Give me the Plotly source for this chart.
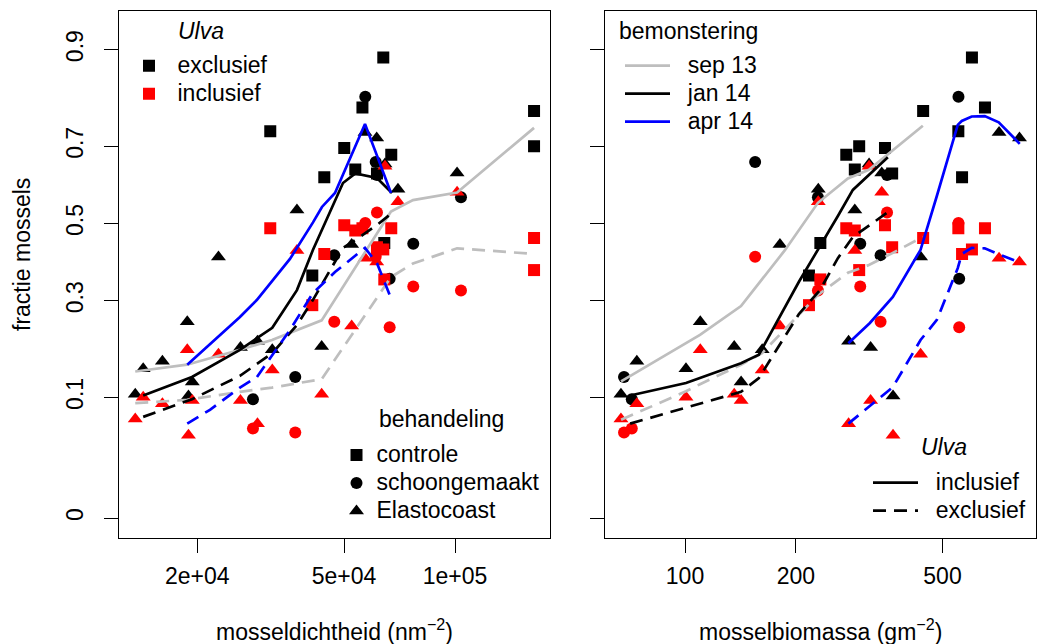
import numpy as np
import plotly.graph_objects as go

FONT = "Liberation Sans, Arial, Helvetica, sans-serif"
W, H = 1037, 644
FS = 23  # text size used throughout

# ---------------------------------------------------------------- samples
# one entry per plot: treatment, mussel density (n m-2), mussel biomass (g m-2),
# fraction of mussels measured without (exclusief) and with (inclusief) Ulva
behandeling = ["controle"] * 12 + ["schoongemaakt"] * 9 + ["Elastocoast"] * 18

dichtheid = [63900, 56100, 163800, 31550, 163800, 50080, 67160, 53650, 61430, 44210, 64300, 41020,
             57100, 60940, 61430, 77050, 47050, 66490, 103800, 36880, 28320,
             57000, 61320, 64580, 101300, 70030, 37270, 52450, 22830, 18790, 29130, 43490,
             26190, 31950, 16090, 14270, 19390, 13580, 18930]

biomassa = [601, 652, 443, 552, 297, 349, 274, 289, 365, 565, 233, 217,
            552.5, 155, 353.5, 299, 339.5, 555, 229.5, 68.3, 71.7,
            712, 809, 316, 342, 230, 289, 181, 436, 110, 278, 136,
            319, 162, 74, 100.6, 142, 67.0, 367]

fractie_excl = [0.887, 0.790, 0.782, 0.736, 0.700, 0.696, 0.679, 0.642, 0.632, 0.622, 0.448, 0.363,
                0.813, 0.661, 0.628, 0.446, 0.416, 0.355, 0.570, 0.135, 0.097,
                0.733, 0.720, 0.656, 0.633, 0.591, 0.536, 0.444, 0.411, 0.250, 0.206, 0.195,
                0.193, 0.188, 0.165, 0.150, 0.126, 0.105, 0.102]

fractie_incl = [0.431, 0.487, 0.461, 0.487, 0.377, 0.495, 0.487, 0.481, 0.437, 0.419, 0.353, 0.289,
                0.501, 0.412, 0.529, 0.335, 0.250, 0.237, 0.325, 0.051, 0.056,
                0.408, 0.398, 0.650, 0.583, 0.558, 0.428, 0.240, 0.179, 0.188, 0.062, 0.105,
                0.095, 0.148, 0.090, 0.100, 0.095, 0.068, 0.048]

# ------------------------------------------------- smoothed trends per round
# against density
sep13_dichtheid = [13580, 18760, 26110, 31890, 43490, 67040, 76920, 101300, 163800]
sep13_dichtheid_incl = [0.145, 0.158, 0.188, 0.209, 0.253, 0.532, 0.562, 0.582, 0.744]
sep13_dichtheid_excl = [0.091, 0.096, 0.109, 0.116, 0.131, 0.359, 0.394, 0.434, 0.419]

jan14_dichtheid = [14270, 19350, 26110, 31950, 37270, 41200, 49680, 53650, 61430, 67460]
jan14_dichtheid_incl = [0.103, 0.135, 0.188, 0.236, 0.326, 0.430, 0.607, 0.632, 0.620, 0.581]
jan14_dichtheid_excl = [0.071, 0.097, 0.137, 0.181, 0.242, 0.302, 0.435, 0.456, 0.496, 0.528]

apr14_dichtheid = [18790, 21650, 26110, 29040, 35680, 41200, 43570, 47260, 57000, 61430, 67040]
apr14_dichtheid_incl = [0.158, 0.200, 0.261, 0.302, 0.406, 0.503, 0.544, 0.581, 0.753, 0.677, 0.581]
apr14_dichtheid_excl = [0.062, 0.081, 0.116, 0.135, 0.231, 0.319, 0.340, 0.372, 0.435, 0.395, 0.306]

# against biomass
sep13_biomassa = [67.05, 100.6, 109.8, 141.9, 161.8, 186.7, 229.5, 276.8, 315.6, 366.6, 442.2]
sep13_biomassa_incl = [0.127, 0.202, 0.220, 0.287, 0.353, 0.429, 0.555, 0.619, 0.641, 0.690, 0.749]
sep13_biomassa_excl = [0.067, 0.110, 0.122, 0.158, 0.181, 0.233, 0.314, 0.370, 0.390, 0.422, 0.464]

jan14_biomassa = [70.95, 100.6, 141.9, 158.7, 203.8, 232.4, 260.0, 285.5, 355.3]
jan14_biomassa_incl = [0.103, 0.124, 0.161, 0.178, 0.347, 0.438, 0.520, 0.589, 0.673]
jan14_biomassa_excl = [0.062, 0.084, 0.109, 0.133, 0.268, 0.326, 0.408, 0.464, 0.530]

apr14_biomassa = [277.6, 317.6, 366.6, 435.9, 482.6, 550.0, 564.0, 600.2, 651.1, 710.6, 810.3]
apr14_biomassa_incl = [0.202, 0.247, 0.309, 0.430, 0.573, 0.751, 0.760, 0.770, 0.771, 0.757, 0.706]
apr14_biomassa_excl = [0.062, 0.087, 0.117, 0.209, 0.254, 0.382, 0.419, 0.435, 0.434, 0.418, 0.397]

# ------------------------------------------------------------- axis labels
fractie_ticks = [0, 0.1, 0.3, 0.5, 0.7, 0.9]
fractie_ticktext = ["0", "0.1", "0.3", "0.5", "0.7", "0.9"]
dichtheid_ticks = [2e4, 5e4, 1e5]
dichtheid_ticktext = ["2e+04", "5e+04", "1e+05"]
biomassa_ticks = [100, 200, 500]
biomassa_ticktext = ["100", "200", "500"]


def asin_sqrt(p):
    """Angular transform used for the vertical scale."""
    return np.arcsin(np.sqrt(np.asarray(p, dtype=float)))


def log_range(values, pad=0.04):
    lo, hi = np.log10(min(values)), np.log10(max(values))
    d = hi - lo
    return [lo - pad * d, hi + pad * d]


SYMBOL = {"controle": "square", "schoongemaakt": "circle", "Elastocoast": "triangle-up"}
SIZE = {"controle": 12, "schoongemaakt": 12, "Elastocoast": 13}
GREY, BLACK, BLUE, RED = "#BEBEBE", "#000000", "#0000FF", "#FF0000"
LW = 2.7
DASH = "13px,8px"

fig = go.Figure()

panels = [("x", "y", dichtheid,
           [(GREY, sep13_dichtheid, sep13_dichtheid_incl, sep13_dichtheid_excl),
            (BLACK, jan14_dichtheid, jan14_dichtheid_incl, jan14_dichtheid_excl),
            (BLUE, apr14_dichtheid, apr14_dichtheid_incl, apr14_dichtheid_excl)]),
          ("x2", "y2", biomassa,
           [(GREY, sep13_biomassa, sep13_biomassa_incl, sep13_biomassa_excl),
            (BLACK, jan14_biomassa, jan14_biomassa_incl, jan14_biomassa_excl),
            (BLUE, apr14_biomassa, apr14_biomassa_incl, apr14_biomassa_excl)])]

beh = np.array(behandeling)
for xa, ya, xvals, curves in panels:
    xvals = np.asarray(xvals, dtype=float)
    for colour, frac in ((BLACK, fractie_excl), (RED, fractie_incl)):
        frac = np.asarray(frac, dtype=float)
        for name in ("controle", "schoongemaakt", "Elastocoast"):
            m = beh == name
            fig.add_trace(go.Scatter(
                x=xvals[m], y=asin_sqrt(frac[m]), xaxis=xa, yaxis=ya,
                mode="markers", showlegend=False, hoverinfo="skip",
                marker=dict(symbol=SYMBOL[name], size=SIZE[name], color=colour,
                            line=dict(width=0))))
    for colour, cx, cincl, cexcl in curves:
        fig.add_trace(go.Scatter(x=cx, y=asin_sqrt(cincl), xaxis=xa, yaxis=ya,
                                 mode="lines", showlegend=False, hoverinfo="skip",
                                 line=dict(color=colour, width=LW)))
        fig.add_trace(go.Scatter(x=cx, y=asin_sqrt(cexcl), xaxis=xa, yaxis=ya,
                                 mode="lines", showlegend=False, hoverinfo="skip",
                                 line=dict(color=colour, width=LW, dash=DASH)))

# ---------------------------------------------------------------- legends
# legend rows are spaced by the legend font size; the label itself is drawn at FS
ROW_FONT = 19.2


def label(text, pad=""):
    return f'<span style="font-size:{FS}px">{pad}{text}</span>'


def key(name, legend, pad="", **kw):
    fig.add_trace(go.Scatter(x=[None], y=[None], name=label(name, pad), legend=legend,
                             showlegend=True, hoverinfo="skip", **kw))


NB = "\u00a0\u00a0"
key("exclusief", "legend", mode="markers",
    marker=dict(symbol="square", size=12, color=BLACK))
key("inclusief", "legend", mode="markers",
    marker=dict(symbol="square", size=12, color=RED))
for name in ("controle", "schoongemaakt", "Elastocoast"):
    key(name, "legend2", mode="markers",
        marker=dict(symbol=SYMBOL[name], size=SIZE[name], color=BLACK))
for name, colour in (("sep 13", GREY), ("jan 14", BLACK), ("apr 14", BLUE)):
    key(name, "legend3", pad=NB, mode="lines", line=dict(color=colour, width=LW))
key("inclusief", "legend4", pad=NB, mode="lines", line=dict(color=BLACK, width=LW))
key("exclusief", "legend4", pad=NB, mode="lines",
    line=dict(color=BLACK, width=LW, dash=DASH))


def legend_box(x_px, first_row_px, itemwidth):
    # first row centre sits 19 px below the top of the legend box
    return dict(x=x_px / W, y=1 - (first_row_px - 19) / H, xanchor="left", yanchor="top",
                xref="paper", yref="paper", bgcolor="rgba(0,0,0,0)",
                borderwidth=0, tracegroupgap=0, itemclick=False, itemwidth=itemwidth,
                font=dict(family=FONT, size=ROW_FONT, color="black"))


def text_at(text, x_px, y_px, angle=0, anchor="center"):
    return dict(text=text, x=x_px / W, y=1 - y_px / H, xref="paper", yref="paper",
                textangle=angle, showarrow=False, xanchor=anchor, yanchor="middle",
                font=dict(family=FONT, size=FS, color="black"))


# ------------------------------------------------------------------ layout
y_lo, y_hi = 0.0, 1.3
y_pad = 0.04 * (y_hi - y_lo)
ydom = [1 - 537.5 / H, 1 - 11 / H]

axis_style = dict(showline=True, mirror=True, linecolor="black", linewidth=1.2,
                  ticks="outside", ticklen=14, tickwidth=1.2, tickcolor="black",
                  showgrid=False, zeroline=False,
                  tickfont=dict(family=FONT, size=FS, color="black"))

fig.update_layout(
    width=W, height=H, margin=dict(l=0, r=0, t=0, b=0),
    paper_bgcolor="white", plot_bgcolor="white",
    font=dict(family=FONT, size=FS, color="black"),
    xaxis=dict(axis_style, type="log", domain=[119.3 / W, 550 / W],
               range=log_range(dichtheid), anchor="y", ticklabelstandoff=4,
               tickmode="array", tickvals=dichtheid_ticks, ticktext=dichtheid_ticktext),
    xaxis2=dict(axis_style, type="log", domain=[605 / W, 1035.7 / W],
                range=log_range(biomassa + apr14_biomassa), anchor="y2", ticklabelstandoff=4,
                tickmode="array", tickvals=biomassa_ticks, ticktext=biomassa_ticktext),
    yaxis=dict(axis_style, domain=ydom, range=[y_lo - y_pad, y_hi + y_pad], anchor="x",
               tickmode="array", tickvals=asin_sqrt(fractie_ticks).tolist(),
               ticktext=fractie_ticktext, tickangle=-90, ticklabelstandoff=12),
    yaxis2=dict(axis_style, domain=ydom, range=[y_lo - y_pad, y_hi + y_pad], anchor="x2",
                tickmode="array", tickvals=asin_sqrt(fractie_ticks).tolist(),
                showticklabels=False),
    legend=legend_box(120.5, 65.7, 47),
    legend2=legend_box(336.5, 455, 30),
    legend3=legend_box(620, 65.7, 45),
    legend4=legend_box(868, 482.7, 45),
    annotations=[
        # legend headings
        text_at("<i>Ulva</i>", 201, 30.7),
        text_at("behandeling", 441.5, 419),
        text_at("bemonstering", 617, 30.7, anchor="left"),
        text_at("<i>Ulva</i>", 944, 446.7),
        # axis titles
        text_at("fractie mossels", 22, 255, angle=-90),
        text_at("mosseldichtheid (nm<sup>\u22122</sup>)", 334.7, 630),
        text_at("mosselbiomassa (gm<sup>\u22122</sup>)", 820.4, 630),
    ],
)

fig.write_html("out.html")
